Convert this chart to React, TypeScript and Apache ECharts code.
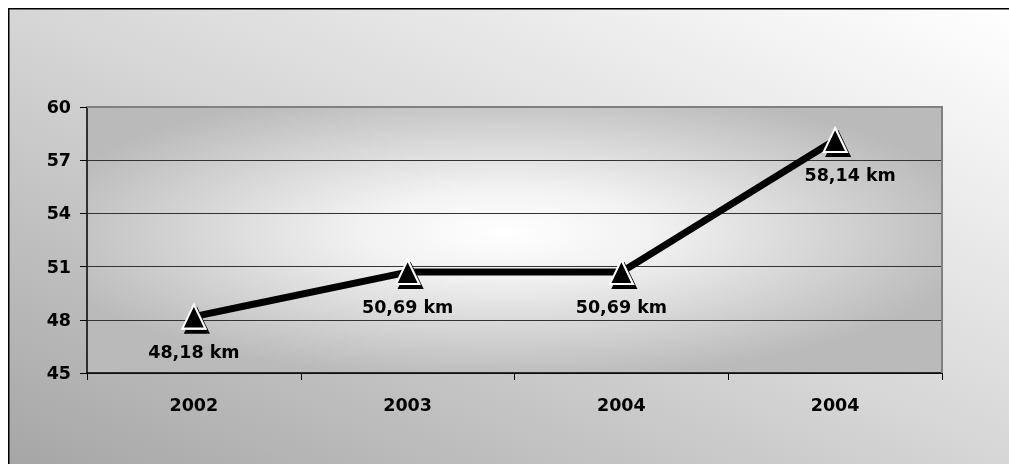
import React, { useEffect, useRef } from "react";
import * as echarts from "echarts";

const categories = ["2002", "2003", "2004", "2004"];
const distances = [48.18, 50.69, 50.69, 58.14];
const pointLabels = ["48,18 km", "50,69 km", "50,69 km", "58,14 km"];
const yMin = 45;
const yMax = 60;
const yInterval = 3;

const FONT = "'DejaVu Sans', sans-serif";

export default function App() {
  const ref = useRef<HTMLDivElement>(null);

  useEffect(() => {
    if (!ref.current) return;
    const chart = echarts.init(ref.current, undefined, { renderer: "svg" });

    const W = 1001;
    const H = 456;
    const gridLeft = 79;
    const gridTop = 99;
    const gridRight = W - (942 - 8);
    const gridBottom = H - (373 - 8);
    const gw = W - gridLeft - gridRight;
    const gh = H - gridTop - gridBottom;
    const gx2 = gridLeft + gw;
    const gy2 = gridTop + gh;

    chart.setOption({
      animation: false,
      graphic: [
        {
          type: "rect",
          x: 0,
          y: 0,
          z: -20,
          silent: true,
          shape: { x: 0, y: 0, width: W, height: H },
          style: {
            fill: new echarts.graphic.LinearGradient(0, 1, 1, 0, [
              { offset: 0, color: "#a6a6a6" },
              { offset: 0.5, color: "#d6d6d6" },
              { offset: 1, color: "#ffffff" },
            ]),
          },
        },
        {
          type: "rect",
          x: gridLeft,
          y: gridTop,
          scaleX: gw / gh,
          z: -10,
          silent: true,
          shape: { x: 0, y: 0, width: gh, height: gh },
          style: {
            fill: new echarts.graphic.RadialGradient(0.49, 0.47, 0.56, [
              { offset: 0, color: "#ffffff" },
              { offset: 0.3, color: "#f2f2f2" },
              { offset: 1, color: "#bababa" },
            ]),
          },
        },
        {
          type: "polyline",
          z: 50,
          silent: true,
          shape: {
            points: [
              [gridLeft, gridTop],
              [gx2, gridTop],
              [gx2, gy2],
            ],
          },
          style: { stroke: "#808080", lineWidth: 2, fill: null },
        },
        {
          type: "line",
          z: 100,
          silent: true,
          shape: { x1: 0, y1: 0.75, x2: W, y2: 0.75 },
          style: { stroke: "#000", lineWidth: 1.5 },
        },
        {
          type: "line",
          z: 100,
          silent: true,
          shape: { x1: 0.75, y1: 0, x2: 0.75, y2: H },
          style: { stroke: "#000", lineWidth: 1.5 },
        },
      ],
      grid: {
        left: gridLeft,
        top: gridTop,
        right: gridRight,
        bottom: gridBottom,
        show: false,
      },
      xAxis: {
        type: "category",
        data: categories,
        boundaryGap: true,
        axisLine: { lineStyle: { color: "#000", width: 1.5 } },
        axisTick: { show: true, length: 7, lineStyle: { color: "#000" } },
        axisLabel: {
          margin: 23,
          color: "#000",
          fontFamily: FONT,
          fontWeight: "bold",
          fontSize: 17.5,
        },
        splitLine: { show: false },
      },
      yAxis: {
        type: "value",
        min: yMin,
        max: yMax,
        interval: yInterval,
        axisLine: { show: true, lineStyle: { color: "#000", width: 1.5 } },
        axisTick: { show: true, length: 7, lineStyle: { color: "#000" } },
        axisLabel: {
          margin: 16,
          color: "#000",
          fontFamily: FONT,
          fontWeight: "bold",
          fontSize: 17.5,
        },
        splitLine: { show: true, lineStyle: { color: "#333", width: 1 } },
      },
      series: [
        {
          type: "line",
          data: distances.map((v, i) => ({
            value: v,
            label: {
              formatter: pointLabels[i],
              offset: i === distances.length - 1 ? [15, 0] : [0, 0],
            },
          })),
          lineStyle: { color: "#000", width: 7 },
          symbol: "triangle",
          symbolSize: [23, 24],
          itemStyle: {
            color: "#000",
            borderColor: "#fff",
            borderWidth: 2,
            shadowColor: "#000",
            shadowBlur: 0,
            shadowOffsetX: 3,
            shadowOffsetY: 4,
          },
          label: {
            show: true,
            position: "bottom",
            distance: 13,
            color: "#000",
            fontFamily: FONT,
            fontWeight: "bold",
            fontSize: 17.5,
          },
        },
      ],
    });

    return () => chart.dispose();
  }, []);

  return (
    <div
      style={{
        position: "fixed",
        left: 0,
        top: 0,
        width: 1009,
        height: 464,
        overflow: "hidden",
      }}
    >
      <div
        ref={ref}
        style={{ position: "absolute", left: 8, top: 8, width: 1001, height: 456 }}
      />
    </div>
  );
}
